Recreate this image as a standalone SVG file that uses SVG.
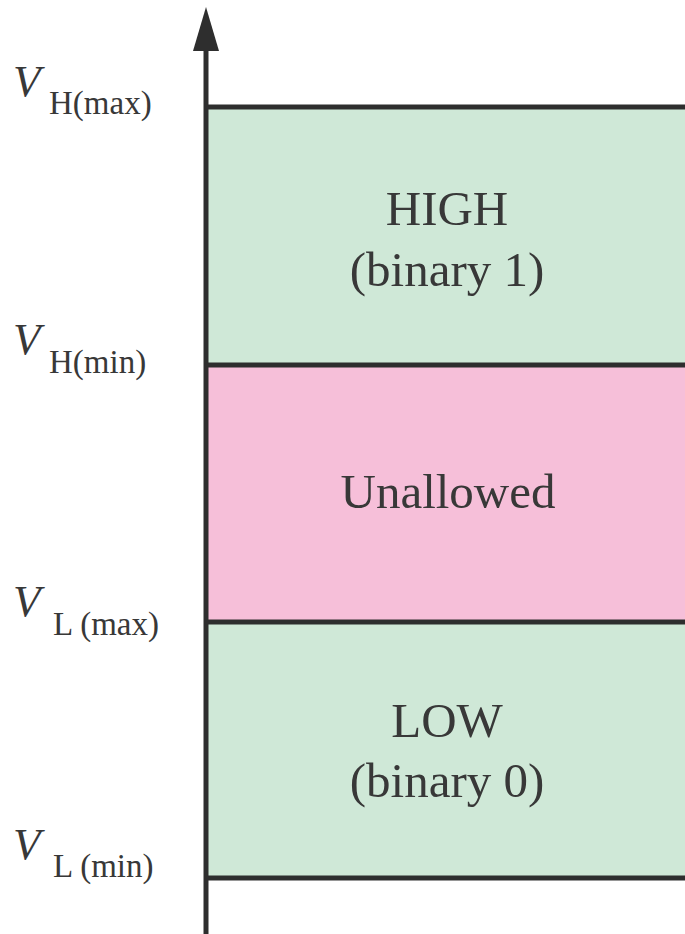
<svg xmlns="http://www.w3.org/2000/svg" width="685" height="934" viewBox="0 0 685 934">
<style>
.t{font-family:"Liberation Serif","Times New Roman",serif;fill:#383838}
.big{font-size:49px;text-anchor:middle}
.v{font-size:45px;font-style:italic}
.s{font-size:33px}
.ln{stroke:#2e2e2e;stroke-width:5;fill:none}
.g{fill:#cfe8d7}
.p{fill:#f6bfd9}
</style>
<defs>
<marker id="ah" markerUnits="userSpaceOnUse" markerWidth="44" markerHeight="28" refX="4" refY="14" orient="auto" viewBox="0 0 44 28">
<path d="M44,14 L0,27 L0,1 Z" fill="#2e2e2e"/>
</marker>
</defs>
<g id="high">
<rect class="g" x="206" y="107" width="479" height="258"/>
<text class="t big" x="447" y="225">HIGH</text>
<text class="t big" x="447" y="286">(binary 1)</text>
</g>
<g id="unallowed">
<rect class="p" x="206" y="365" width="479" height="257"/>
<text class="t big" x="448" y="508">Unallowed</text>
</g>
<g id="low">
<rect class="g" x="206" y="622" width="479" height="256"/>
<text class="t big" x="447" y="737">LOW</text>
<text class="t big" x="447" y="797">(binary 0)</text>
</g>
<g id="labels">
<text class="t" x="13" y="96"><tspan class="v">V</tspan><tspan class="s" x="49" y="114">H(max)</tspan></text>
<text class="t" x="13" y="354"><tspan class="v">V</tspan><tspan class="s" x="49" y="373">H(min)</tspan></text>
<text class="t" x="13" y="616"><tspan class="v">V</tspan><tspan class="s" x="53" y="635">L (max)</tspan></text>
<text class="t" x="13" y="859"><tspan class="v">V</tspan><tspan class="s" x="53" y="877">L (min)</tspan></text>
</g>
<g id="connectors">
<line class="ln" x1="206" y1="934" x2="206" y2="47" marker-end="url(#ah)"/>
<line class="ln" x1="204" y1="107" x2="685" y2="107"/>
<line class="ln" x1="204" y1="365" x2="685" y2="365"/>
<line class="ln" x1="204" y1="622" x2="685" y2="622"/>
<line class="ln" x1="204" y1="878" x2="685" y2="878"/>
</g>
</svg>
